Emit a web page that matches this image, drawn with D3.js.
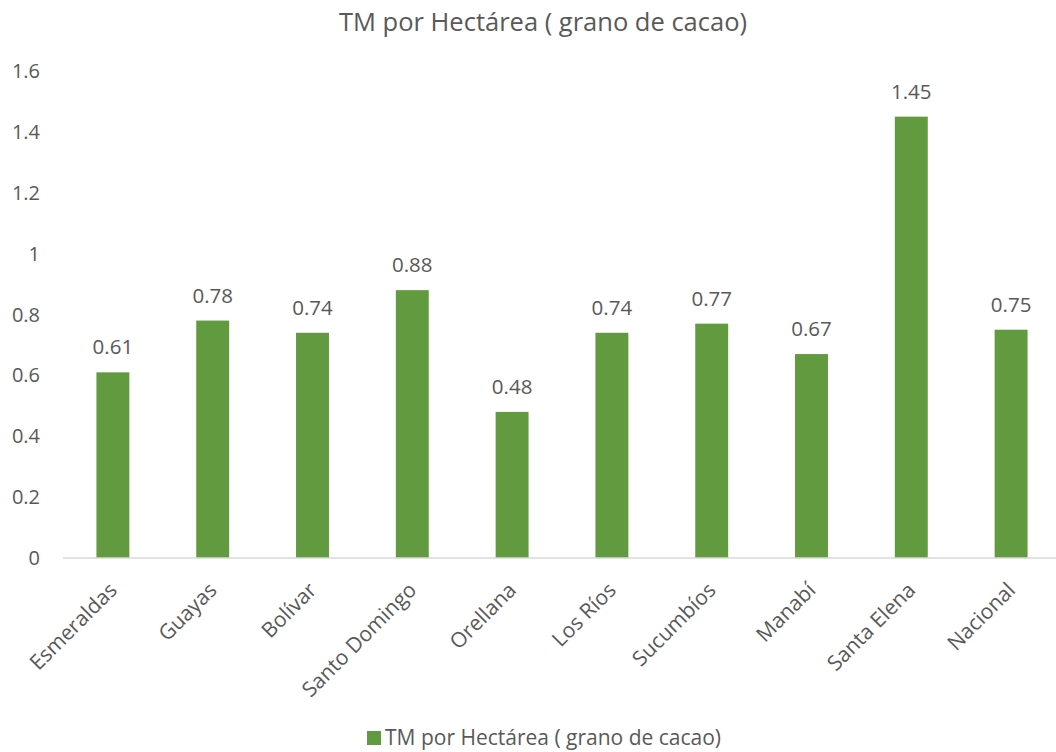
<!DOCTYPE html>
<html>
<head>
<meta charset="utf-8">
<script src="https://cdn.jsdelivr.net/npm/d3@7"></script>
<style>
  body { margin: 0; background: #fff; }
  text { font-family: "Open Sans", sans-serif; fill: #595959; }
</style>
</head>
<body>
<div id="chart"></div>
<script>
// data
var categories = ["Esmeraldas", "Guayas", "Bolívar", "Santo Domingo", "Orellana",
                  "Los Ríos", "Sucumbíos", "Manabí", "Santa Elena", "Nacional"];
var values = [0.61, 0.78, 0.74, 0.88, 0.48, 0.74, 0.77, 0.67, 1.45, 0.75];
var yTicks = [0, 0.2, 0.4, 0.6, 0.8, 1, 1.2, 1.4, 1.6];
var seriesName = "TM por Hectárea ( grano de cacao)";

var w = 1056, h = 752;
var green = "#629b3f";

var svg = d3.select("#chart").append("svg")
  .attr("width", w).attr("height", h);

var x = d3.scaleBand().domain(categories).range([63, 1061]).paddingInner(0.67).paddingOuter(0.335);
var y = d3.scaleLinear().domain([0, 1.6]).range([558, 71]);

// title
svg.append("text")
  .attr("x", 543).attr("y", 31)
  .attr("text-anchor", "middle")
  .style("font-size", "25.5px")
  .text(seriesName);

// y tick labels (no grid)
svg.selectAll("text.ytick")
  .data(yTicks)
  .enter().append("text")
  .attr("class", "ytick")
  .attr("x", 40).attr("y", d => y(d))
  .attr("dy", "0.35em")
  .attr("text-anchor", "end")
  .style("font-size", "20px")
  .text(d => d);

// bars
svg.selectAll("rect.bar")
  .data(values)
  .enter().append("rect")
  .attr("class", "bar")
  .attr("x", (d, i) => x(categories[i]))
  .attr("width", x.bandwidth())
  .attr("y", d => y(d))
  .attr("height", d => y(0) - y(d))
  .attr("fill", green);

// baseline
svg.append("line")
  .attr("x1", 63).attr("x2", 1061)
  .attr("y1", y(0)).attr("y2", y(0))
  .attr("stroke", "#d9d9d9").attr("stroke-width", 1.3);

// value labels
svg.selectAll("text.val")
  .data(values)
  .enter().append("text")
  .attr("class", "val")
  .attr("x", (d, i) => x(categories[i]) + x.bandwidth() / 2)
  .attr("y", d => y(d) - 18)
  .attr("text-anchor", "middle")
  .style("font-size", "20.5px")
  .text(d => d);

// category labels rotated
svg.selectAll("text.cat")
  .data(categories)
  .enter().append("text")
  .attr("class", "cat")
  .attr("transform", d => "translate(" + (x(d) + x.bandwidth() / 2 - 5) + "," + (y(0) + 23) + ") rotate(-45)")
  .attr("text-anchor", "end")
  .attr("dy", "0.7em")
  .style("font-size", "21px")
  .text(d => d);

// legend
var lg = svg.append("g").attr("transform", "translate(367,731)");
lg.append("rect").attr("width", 14).attr("height", 14).attr("fill", green);
lg.append("text").attr("x", 18).attr("y", 7).attr("dy", "0.35em")
  .style("font-size", "21px")
  .text(seriesName);
</script>
</body>
</html>
